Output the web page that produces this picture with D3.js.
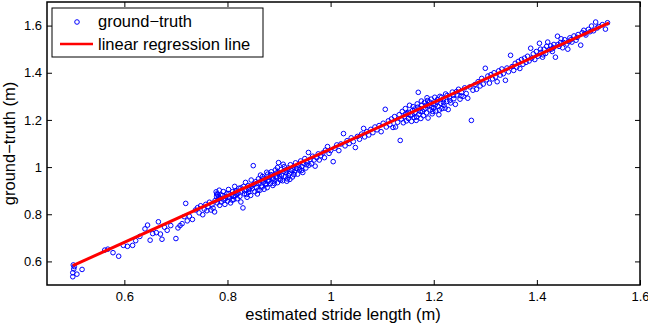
<!DOCTYPE html>
<html>
<head>
<meta charset="utf-8">
<script src="https://cdn.jsdelivr.net/npm/d3@7"></script>
<style>
  body { margin: 0; background: #fff; }
  svg { display: block; font-family: 'Liberation Sans', Arial, Helvetica, sans-serif; }
</style>
</head>
<body>
<div class="graph"></div>
<script>
var stridesShort = [
  [0.500,0.535],[0.500,0.552],[0.502,0.568],[0.503,0.578],[0.508,0.546],[0.518,0.566],[0.501,0.585],
  [0.562,0.648],[0.568,0.652],[0.578,0.637],[0.589,0.622],[0.598,0.668],[0.606,0.664],[0.616,0.668],
  [0.622,0.688],[0.630,0.706],[0.640,0.738],[0.645,0.754],[0.650,0.690],[0.655,0.718],[0.662,0.722],
  [0.666,0.768],[0.670,0.716],[0.673,0.694],[0.678,0.745],[0.683,0.732],[0.690,0.752],[0.700,0.697],
  [0.704,0.742],[0.708,0.752],[0.712,0.760],[0.716,0.790],[0.719,0.846],[0.722,0.772],[0.726,0.792],
  [0.732,0.778]
];
var stridesSlow = [
  [0.738,0.818],[0.742,0.828],[0.745,0.806],[0.748,0.836],[0.752,0.798],[0.755,0.822],[0.758,0.842],
  [0.760,0.815],[0.762,0.832],[0.765,0.851],[0.768,0.818],[0.770,0.840],[0.772,0.826],[0.775,0.810],
  [0.776,0.858],[0.778,0.895],[0.779,0.875],[0.780,0.848],[0.781,0.884],[0.782,0.862],[0.784,0.902],
  [0.785,0.838],[0.786,0.868],[0.788,0.852],[0.790,0.880],[0.792,0.896],[0.793,0.860],[0.795,0.842],
  [0.797,0.874],[0.799,0.888],[0.800,0.856],[0.802,0.905],[0.804,0.870],[0.806,0.848],[0.808,0.882],
  [0.810,0.896],[0.812,0.862],[0.814,0.918],[0.815,0.878],[0.817,0.900],[0.819,0.866],[0.820,0.888],
  [0.822,0.910],[0.824,0.876],[0.826,0.852],[0.828,0.898],[0.830,0.827],[0.831,0.918],[0.833,0.886],
  [0.835,0.935],[0.836,0.904],[0.838,0.872],[0.840,0.922],[0.841,0.893],[0.843,0.912],[0.845,0.880],
  [0.846,0.945],[0.848,0.908],[0.850,1.006],[0.851,0.926],[0.853,0.896],[0.855,0.938],[0.856,0.914],
  [0.858,0.886],[0.860,0.950],[0.861,0.930],[0.863,0.902],[0.865,0.942],[0.866,0.920],[0.868,0.960],
  [0.870,0.936],[0.871,0.906],[0.873,0.948],[0.875,0.926],[0.877,0.913],[0.878,0.970],[0.880,0.944],
  [0.882,0.958],[0.883,0.930],[0.885,0.980],[0.887,0.952],[0.888,0.922],[0.890,0.966],[0.892,0.944],
  [0.893,0.988],[0.895,0.958],[0.897,0.934],[0.899,1.019],[0.900,0.974],[0.902,0.950],[0.904,0.990],
  [0.905,0.966],[0.907,0.942],[0.909,0.982],[0.910,1.002],[0.912,0.960],[0.914,0.976],[0.916,0.950],
  [0.918,0.996],[0.920,0.972],[0.922,1.010],[0.924,0.986],[0.926,0.958],[0.928,1.000],[0.930,0.980],
  [0.932,1.018],[0.934,0.994],[0.936,0.970],[0.938,1.008],[0.940,0.988],[0.942,1.026],[0.944,1.002],
  [0.946,0.977],[0.948,1.016],[0.950,1.036],[0.952,0.996],[0.954,1.022],[0.957,1.062],[0.958,1.008],
  [0.960,1.032],[0.963,1.014],[0.965,1.046],[0.968,1.030],[0.970,1.004],[0.973,1.040],[0.976,1.056],
  [0.978,1.030],[0.981,1.048],
  [0.842,0.905],[0.867,0.915],[0.879,0.938],[0.856,0.930],[0.889,0.950],[0.901,0.962],[0.913,0.988],
  [0.871,0.952],[0.884,0.968],[0.896,0.976],[0.918,0.964],[0.927,0.990],[0.939,0.996],[0.846,0.918],
  [0.859,0.902],[0.874,0.930],[0.891,0.930],[0.903,0.944],[0.915,0.940],[0.929,0.968],[0.944,0.986],
  [0.953,1.010],[0.864,0.966],[0.876,0.978],[0.897,0.998],[0.908,1.012],[0.921,0.948],[0.833,0.900],
  [0.826,0.912],[0.818,0.884],[0.811,0.876],[0.803,0.888],[0.796,0.866],[0.787,0.882],[0.783,0.874],
  [0.779,0.886],[0.801,0.872],[0.809,0.860],[0.816,0.894],[0.837,0.884]
];
var stridesNormal = [
  [0.985,1.060],[0.988,1.040],[0.990,1.072],[0.994,1.087],[0.997,1.058],[1.000,1.070],[1.005,1.023],
  [1.008,1.080],[1.012,1.094],[1.016,1.070],[1.020,1.098],[1.025,1.142],[1.028,1.090],[1.032,1.112],
  [1.036,1.100],[1.040,1.124],[1.044,1.108],[1.048,1.083],[1.052,1.130],[1.056,1.118],[1.060,1.140],
  [1.064,1.164],[1.066,1.128],[1.070,1.150],[1.074,1.136],[1.078,1.160],[1.082,1.146],[1.086,1.170],
  [1.090,1.158],[1.094,1.176],[1.098,1.150],[1.102,1.186],[1.106,1.245],[1.108,1.170],[1.112,1.196],
  [1.115,1.180],[1.118,1.204],[1.121,1.168],[1.124,1.214],[1.126,1.170],
  [1.130,1.190],[1.133,1.222],[1.135,1.113],[1.137,1.204],[1.139,1.236],[1.141,1.188],[1.143,1.214],
  [1.145,1.248],[1.147,1.196],[1.149,1.228],[1.151,1.206],[1.153,1.262],[1.155,1.218],[1.157,1.194],
  [1.159,1.240],[1.160,1.256],[1.162,1.210],[1.164,1.232],[1.166,1.198],[1.168,1.268],[1.170,1.317],
  [1.171,1.224],[1.173,1.248],[1.175,1.206],[1.177,1.262],[1.178,1.236],[1.180,1.218],[1.182,1.274],
  [1.184,1.250],[1.186,1.230],[1.188,1.282],[1.189,1.208],[1.191,1.260],[1.193,1.242],[1.195,1.288],
  [1.197,1.226],[1.199,1.268],[1.200,1.250],[1.202,1.296],[1.204,1.238],[1.206,1.276],[1.208,1.258],
  [1.210,1.222],[1.212,1.300],[1.214,1.270],[1.216,1.248],[1.218,1.286],[1.220,1.262],[1.223,1.310],
  [1.225,1.278],[1.228,1.244],[1.230,1.296],[1.233,1.272],[1.236,1.318],[1.239,1.290],[1.242,1.266],
  [1.245,1.306],[1.248,1.330],[1.251,1.288],[1.254,1.316],[1.257,1.300],[1.260,1.336],[1.263,1.312],
  [1.266,1.292],[1.270,1.340],[1.273,1.198],[1.276,1.326],[1.280,1.350],
  [1.152,1.232],[1.163,1.246],[1.174,1.236],[1.185,1.262],[1.196,1.254],[1.207,1.286],[1.219,1.274],
  [1.231,1.282],[1.158,1.222],[1.169,1.254],[1.181,1.244],[1.192,1.276],[1.203,1.264],[1.215,1.296],
  [1.226,1.304],[1.238,1.304],[1.146,1.226],[1.176,1.280],[1.187,1.294],[1.211,1.242],[1.222,1.250],
  [1.244,1.320],[1.253,1.302],[1.167,1.212],[1.198,1.236]
];
var stridesFast = [
  [1.283,1.330],[1.286,1.362],[1.290,1.344],[1.293,1.376],[1.296,1.352],[1.300,1.419],[1.302,1.370],
  [1.305,1.386],[1.308,1.356],[1.311,1.392],[1.314,1.374],[1.317,1.400],[1.320,1.382],[1.323,1.362],
  [1.326,1.408],[1.329,1.390],[1.332,1.416],[1.335,1.396],[1.339,1.368],[1.342,1.420],[1.345,1.404],
  [1.349,1.474],[1.352,1.426],[1.355,1.410],[1.358,1.440],[1.361,1.424],[1.364,1.448],[1.367,1.418],
  [1.370,1.456],[1.373,1.436],[1.376,1.462],[1.379,1.444],[1.382,1.470],[1.385,1.450],[1.388,1.504],
  [1.390,1.462],[1.393,1.480],[1.396,1.456],[1.399,1.490],[1.402,1.470],[1.405,1.525],[1.408,1.486],
  [1.411,1.466],[1.414,1.500],[1.417,1.482],[1.421,1.530],[1.424,1.498],[1.427,1.514],[1.430,1.490],
  [1.433,1.520],[1.436,1.466],[1.440,1.555],[1.443,1.512],[1.446,1.528],[1.450,1.506],[1.454,1.540],
  [1.458,1.522],[1.460,1.500],[1.464,1.548],[1.468,1.530],[1.472,1.556],[1.476,1.538],[1.480,1.562],
  [1.485,1.517],[1.488,1.570],[1.491,1.580],[1.495,1.560],[1.500,1.584],[1.506,1.598],[1.510,1.578],
  [1.514,1.615],[1.520,1.596],[1.527,1.604],[1.533,1.585],[1.537,1.612],
  [1.407,1.500],[1.419,1.512],[1.428,1.500],[1.441,1.520],[1.452,1.528],[1.466,1.540],[1.478,1.550],
  [1.493,1.566],[1.412,1.476],[1.432,1.506],[1.447,1.544],[1.462,1.532],[1.503,1.574],[1.517,1.590]
];

// regression line end points
var fitX = [0.50, 1.54];
var fitY = [0.582, 1.611];

var xTicks = [0.6, 0.8, 1, 1.2, 1.4, 1.6];
var yTicks = [0.6, 0.8, 1, 1.2, 1.4, 1.6];

var legendLabels = ['ground\u2212truth', 'linear regression line'];
var xLabel = 'estimated stride length (m)';
var yLabel = 'ground\u2212truth (m)';

var width = 648, height = 328;
// plot box (window.top is taken, so p-prefixed)
var pLeft = 47, pRight = 640, pTop = 2, pBottom = 285;

var points = stridesShort.concat(stridesSlow, stridesNormal, stridesFast);

var x = d3.scaleLinear().domain([0.45, 1.6]).range([pLeft, pRight]);
var y = d3.scaleLinear().domain([0.5, 1.7]).range([pBottom, pTop]);

var svg = d3.select('.graph')
  .append('svg')
  .attr('width', width)
  .attr('height', height);

// points
svg.append('g')
  .selectAll('circle')
  .data(points)
  .enter().append('circle')
  .attr('cx', function (d) { return x(d[0]) })
  .attr('cy', function (d) { return y(d[1]) })
  .attr('r', 2.3)
  .style('fill', 'none')
  .style('stroke', '#0000ff')
  .style('stroke-width', 1);

// regression line
var line = d3.line()
  .x(function (d) { return x(d) })
  .y(function (d, i) { return y(fitY[i]) });

svg.append('path')
  .datum(fitX)
  .attr('d', line)
  .style('fill', 'none')
  .style('stroke', '#ff0000')
  .style('stroke-width', 3);

// axes, ticks point inwards like matlab
var fmt = function (d) { return String(+d.toFixed(1)) };

svg.append('g')
  .attr('transform', 'translate(0,' + pBottom + ')')
  .call(d3.axisBottom(x).tickValues(xTicks).tickSize(-5).tickPadding(7).tickFormat(fmt));

svg.append('g')
  .attr('transform', 'translate(0,' + pTop + ')')
  .call(d3.axisTop(x).tickValues(xTicks).tickSize(-5).tickFormat(''));

svg.append('g')
  .attr('transform', 'translate(' + pLeft + ',0)')
  .call(d3.axisLeft(y).tickValues(yTicks).tickSize(-5).tickPadding(5).tickFormat(fmt));

svg.append('g')
  .attr('transform', 'translate(' + pRight + ',0)')
  .call(d3.axisRight(y).tickValues(yTicks).tickSize(-5).tickFormat(''));

svg.selectAll('.domain').remove();
svg.selectAll('.tick line').style('stroke', '#000').style('stroke-width', 1);
svg.selectAll('.tick text')
  .style('font-size', '13px')
  .style('fill', '#000')
  .style('font-family', "'Liberation Sans', Arial, sans-serif");

// box
svg.append('rect')
  .attr('x', pLeft)
  .attr('y', pTop)
  .attr('width', pRight - pLeft)
  .attr('height', pBottom - pTop)
  .style('fill', 'none')
  .style('stroke', '#000')
  .style('stroke-width', 1.5);

// axis labels
svg.append('text')
  .attr('x', 343)
  .attr('y', 320)
  .attr('text-anchor', 'middle')
  .style('font-size', '16.5px')
  .text(xLabel);

svg.append('text')
  .attr('text-anchor', 'middle')
  .attr('transform', 'translate(15,' + ((pTop + pBottom) / 2) + ')rotate(-90)')
  .style('font-size', '16.5px')
  .text(yLabel);

// legend
var legend = svg.append('g');
legend.append('rect')
  .attr('x', 52)
  .attr('y', 8)
  .attr('width', 211)
  .attr('height', 49)
  .style('fill', '#fff')
  .style('stroke', '#000')
  .style('stroke-width', 1);

legend.append('circle')
  .attr('cx', 77)
  .attr('cy', 22)
  .attr('r', 2.3)
  .style('fill', 'none')
  .style('stroke', '#0000ff');

legend.append('line')
  .attr('x1', 60).attr('x2', 93)
  .attr('y1', 44).attr('y2', 44)
  .style('stroke', '#ff0000')
  .style('stroke-width', 2.5);

legend.selectAll('text.lab')
  .data(legendLabels)
  .enter().append('text')
  .attr('class', 'lab')
  .attr('x', 98)
  .attr('y', function (d, i) { return 27 + i * 22.5 })
  .style('font-size', '16.5px')
  .text(function (d) { return d });
</script>
</body>
</html>
